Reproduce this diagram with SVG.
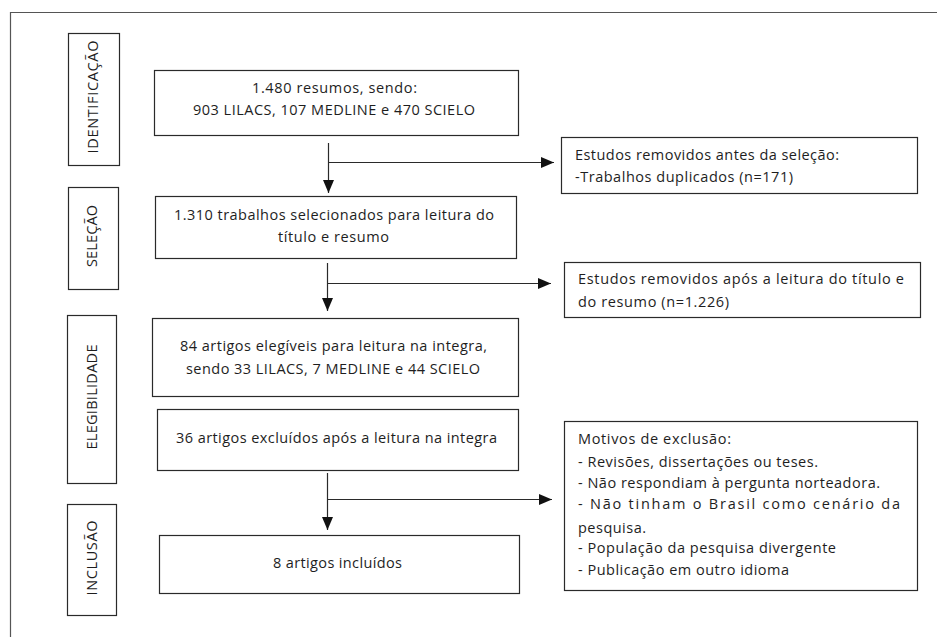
<svg xmlns="http://www.w3.org/2000/svg" width="937" height="637" viewBox="0 0 937 637">
<style>
.box{fill:#fff;stroke:#2a2a2a;stroke-width:1.2}
.t{font-family:"Open Sans","Liberation Sans",sans-serif;font-size:14.5px;fill:#1e1e1e}
.c{text-anchor:middle}
.edge{stroke:#2a2a2a;stroke-width:1.2;fill:none}
</style>
<defs>
<marker id="ah" markerUnits="userSpaceOnUse" markerWidth="13" markerHeight="11" refX="13" refY="5.5" orient="auto">
<path d="M0,0 L13,5.5 L0,11 z" fill="#111"/>
</marker>
</defs>
<rect width="937" height="637" fill="#fff"/>
<path d="M10.5,637 V12.5 H937" fill="none" stroke="#555" stroke-width="1.2"/>

<g id="lbl-identificacao">
<rect class="box" x="68.5" y="33.5" width="51" height="132"/>
<text class="t c" transform="translate(98,97) rotate(-90)" textLength="113">IDENTIFICAÇÃO</text>
</g>
<g id="lbl-selecao">
<rect class="box" x="68.5" y="187.5" width="50" height="102"/>
<text class="t c" transform="translate(97,236) rotate(-90)" textLength="62">SELEÇÃO</text>
</g>
<g id="lbl-elegibilidade">
<rect class="box" x="67.5" y="315.5" width="49" height="168"/>
<text class="t c" transform="translate(97,397) rotate(-90)" textLength="105">ELEGIBILIDADE</text>
</g>
<g id="lbl-inclusao">
<rect class="box" x="67.5" y="504.5" width="49" height="111"/>
<text class="t c" transform="translate(97,558) rotate(-90)" textLength="75">INCLUSÃO</text>
</g>

<g id="n1">
<rect class="box" x="154.5" y="70.5" width="364" height="65"/>
<text class="t c" x="334.5" y="93" textLength="165">1.480 resumos, sendo:</text>
<text class="t c" x="334" y="115" textLength="282">903 LILACS, 107 MEDLINE e 470 SCIELO</text>
</g>
<g id="n2">
<rect class="box" x="155.5" y="196.5" width="361" height="62"/>
<text class="t c" x="334" y="220" textLength="320">1.310 trabalhos selecionados para leitura do</text>
<text class="t c" x="333.5" y="242" textLength="111">título e resumo</text>
</g>
<g id="n3">
<rect class="box" x="152.5" y="318.5" width="366" height="78"/>
<text class="t c" x="333.5" y="351" textLength="307">84 artigos elegíveis para leitura na integra,</text>
<text class="t c" x="333" y="374" textLength="294">sendo 33 LILACS, 7 MEDLINE e 44 SCIELO</text>
</g>
<g id="n4">
<rect class="box" x="157.5" y="409.5" width="361" height="61"/>
<text class="t c" x="336.5" y="443" textLength="321">36 artigos excluídos após a leitura na integra</text>
</g>
<g id="n5">
<rect class="box" x="159.5" y="535.5" width="360" height="58"/>
<text class="t c" x="337.5" y="568" textLength="129">8 artigos incluídos</text>
</g>

<g id="s1">
<rect class="box" x="561.5" y="137.5" width="356" height="56"/>
<text class="t" x="575" y="160" textLength="264">Estudos removidos antes da seleção:</text>
<text class="t" x="575" y="182" textLength="218">-Trabalhos duplicados (n=171)</text>
</g>
<g id="s2">
<rect class="box" x="564.5" y="262.5" width="356" height="55"/>
<text class="t" x="578" y="284" textLength="326">Estudos removidos após a leitura do título e</text>
<text class="t" x="578" y="307" textLength="151">do resumo (n=1.226)</text>
</g>
<g id="s3">
<rect class="box" x="564.5" y="421.5" width="353" height="169"/>
<text class="t" x="578" y="444" textLength="153">Motivos de exclusão:</text>
<text class="t" x="578" y="467" textLength="240">- Revisões, dissertações ou teses.</text>
<text class="t" x="578" y="488" textLength="302">- Não respondiam à pergunta norteadora.</text>
<text class="t" x="578" y="509" textLength="322">- Não tinham o Brasil como cenário da</text>
<text class="t" x="578" y="533" textLength="68">pesquisa.</text>
<text class="t" x="578" y="553" textLength="258">- População da pesquisa divergente</text>
<text class="t" x="578" y="575" textLength="211">- Publicação em outro idioma</text>
</g>

<g id="connectors">
<path class="edge" d="M328.5,143 V193" marker-end="url(#ah)"/>
<path class="edge" d="M329,162.5 H554" marker-end="url(#ah)"/>
<path class="edge" d="M327.5,263 V311" marker-end="url(#ah)"/>
<path class="edge" d="M328,283.5 H551" marker-end="url(#ah)"/>
<path class="edge" d="M327.5,473 V530" marker-end="url(#ah)"/>
<path class="edge" d="M328,499.5 H552" marker-end="url(#ah)"/>
</g>
</svg>
